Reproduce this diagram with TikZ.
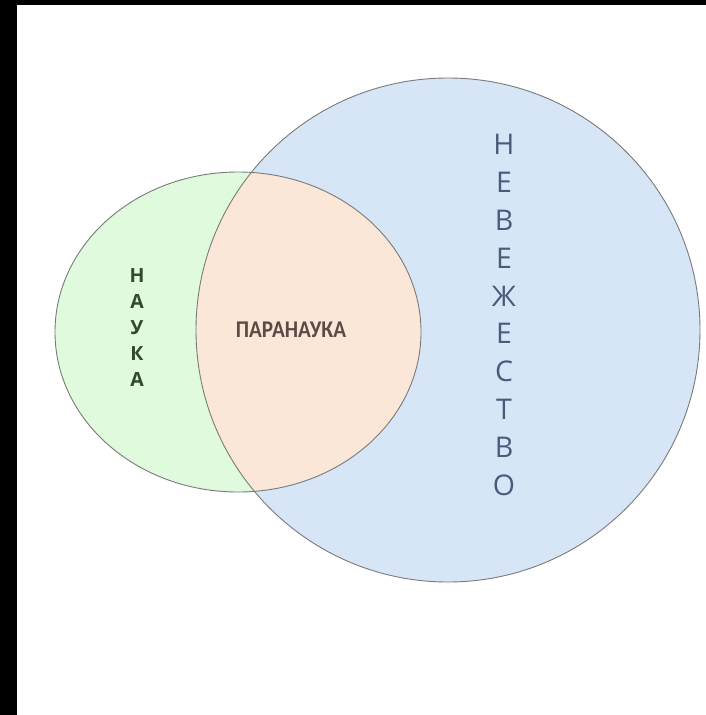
\documentclass[tikz,border=0pt]{standalone}
\usepackage{fontspec}
\setmainfont{Open Sans}
\newfontfamily\carl[FakeStretch=0.88]{Carlito}
\definecolor{blueF}{HTML}{D7E6F7}
\definecolor{greenF}{HTML}{DFFADC}
\definecolor{peachF}{HTML}{FAE7D7}
\definecolor{edgeC}{HTML}{7A7A7A}
\definecolor{naukaC}{HTML}{2F4A2F}
\definecolor{paraC}{HTML}{5B4B47}
\definecolor{nevC}{HTML}{4A5A7A}
\begin{document}
\begin{tikzpicture}[x=1pt,y=-1pt,
  edge/.style={draw=edgeC,line width=0.9pt},
  vlabel/.style={align=center,inner sep=0pt}]
\useasboundingbox (0,0) rectangle (706,715);
\fill[white] (0,0) rectangle (706,715);
\fill[black] (0,0) rectangle (17,715);
\fill[black] (0,0) rectangle (706,5);
% big circle and ellipse
\fill[blueF] (448,330) circle (252pt);
\fill[greenF] (238,332) ellipse (183pt and 160pt);
\begin{scope}
  \clip (238,332) ellipse (183pt and 160pt);
  \fill[peachF] (448,330) circle (252pt);
\end{scope}
\draw[edge] (448,330) circle (252pt);
\draw[edge] (238,332) ellipse (183pt and 160pt);
% labels
\node[vlabel,text=naukaC,font=\bfseries\fontsize{19.5}{26}\selectfont] (nauka) at (137,328) {Н\\А\\У\\К\\А};
\node[inner sep=0pt,text=paraC,font=\carl\bfseries\fontsize{24}{26}\selectfont] (para) at (291,330) {ПАРАНАУКА};
\node[vlabel,text=nevC,font=\fontsize{28.5}{37.8}\selectfont] (nev) at (504,315) {Н\\Е\\В\\Е\\Ж\\Е\\С\\Т\\В\\О};
\end{tikzpicture}
\end{document}
